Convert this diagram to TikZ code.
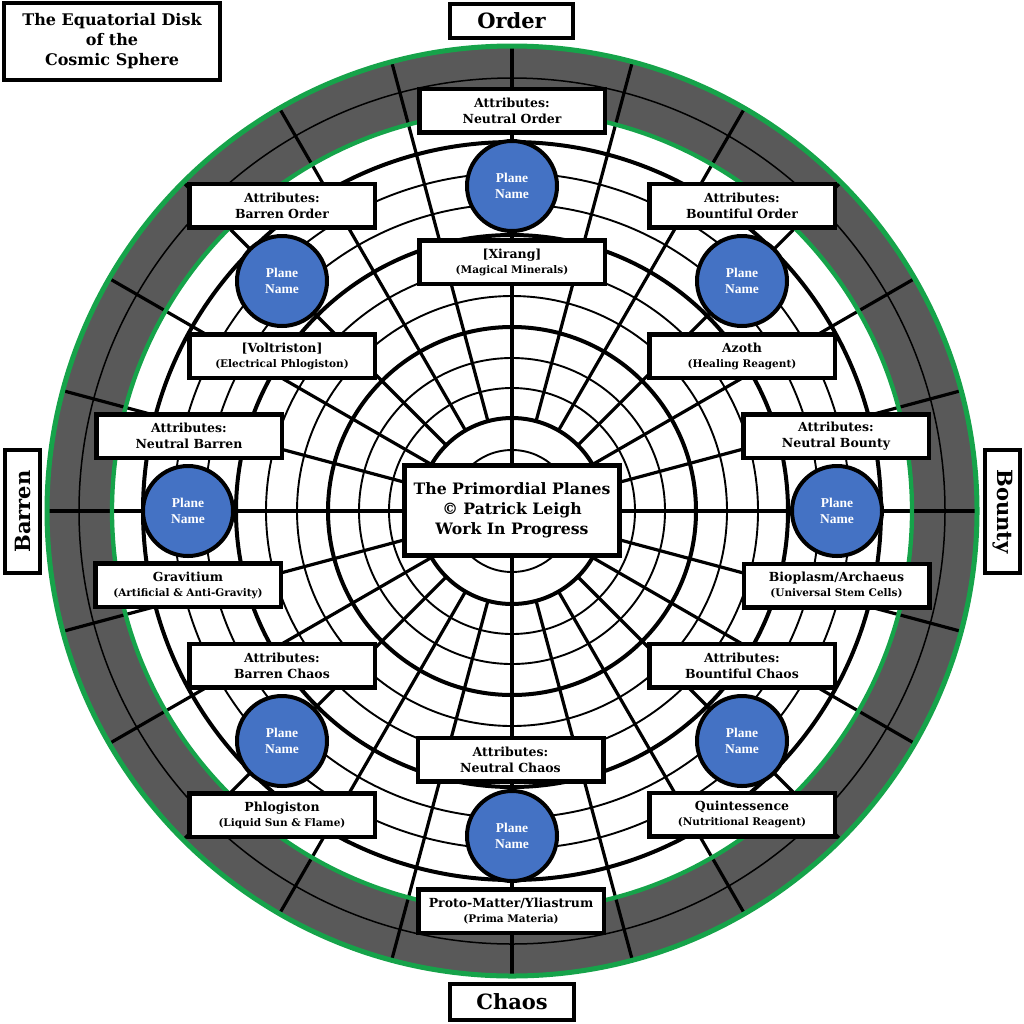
\documentclass[tikz,border=0pt]{standalone}
\usepackage{fontspec}
\setmainfont{DejaVu Serif}
\newfontfamily\planefont{Liberation Serif}
\definecolor{ringgrey}{RGB}{89,89,89}
\definecolor{rimgreen}{RGB}{22,163,74}
\definecolor{planeblue}{RGB}{68,114,196}
\newcommand\subline[1]{{\fontsize{10.5}{15}\selectfont #1}}
\begin{document}
\begin{tikzpicture}[x=1pt,y=-1pt,
  thincirc/.style={line width=1.9pt},
  thickcirc/.style={line width=4pt},
  spoke/.style={line width=3.2pt},
  attrbox/.style={draw, line width=4.5pt, fill=white, inner sep=0pt, align=center,
    minimum width=185.5pt, minimum height=43.5pt, font=\bfseries\fontsize{12.5}{16}\selectfont},
  namebox/.style={attrbox, font=\bfseries\fontsize{12.5}{15}\selectfont},
  bigbox/.style={draw, line width=4pt, fill=white, inner sep=0pt, align=center,
    font=\bfseries\fontsize{21}{26}\selectfont},
  plane/.style={circle, draw, line width=4pt, fill=planeblue, minimum size=90pt, inner sep=0pt,
    text=white, align=center, font=\planefont\bfseries\fontsize{13.5}{15.5}\selectfont}
]
\useasboundingbox (0,0) rectangle (1024,1023);
% disk
\begin{scope}[shift={(512,511)}]
  \fill[ringgrey, even odd rule] (0,0) circle[radius=465] (0,0) circle[radius=400];
  \draw[line width=1.5pt] (0,0) circle[radius=433];
  \foreach \r in {61,123,153,215,246,307,338} \draw[thincirc] (0,0) circle[radius=\r];
  \foreach \r in {93,184,276,369} \draw[thickcirc] (0,0) circle[radius=\r];
  \foreach \a in {0,15,...,345} \draw[spoke] (\a:93) -- (\a:465);
  \foreach \a in {0,90,180,270} \draw[spoke] (0,0) -- (\a:93);
  \draw[rimgreen, line width=4.3pt] (0,0) circle[radius=400];
  \draw[rimgreen, line width=5pt] (0,0) circle[radius=465];
\end{scope}
% title and direction labels
\node[bigbox, minimum width=216pt, minimum height=77pt, font=\bfseries\fontsize{16}{20}\selectfont]
  (title) at (112,41.5) {The Equatorial Disk\\of the\\Cosmic Sphere};
\node[bigbox, minimum width=123pt, minimum height=34pt] (order) at (511.5,21) {Order};
\node[bigbox, minimum width=124pt, minimum height=36pt] (chaos) at (512,1002) {Chaos};
\node[bigbox, rotate=90, minimum width=123pt, minimum height=35pt] (barren) at (22.5,511.5) {Barren};
\node[bigbox, rotate=-90, minimum width=123pt, minimum height=35pt] (bounty) at (1002.5,511.5) {Bounty};
\node[bigbox, line width=5pt, minimum width=215pt, minimum height=90pt, font=\bfseries\fontsize{15.7}{20}\selectfont]
  (center) at (512,510.5) {The Primordial Planes\\© Patrick Leigh\\Work In Progress};
% planes
\node[plane] (p-no) at (512,186) {Plane\\Name};
\node[plane] (p-bo) at (282,281) {Plane\\Name};
\node[plane] (p-bro) at (742,281) {Plane\\Name};
\node[plane] (p-nb) at (188,511) {Plane\\Name};
\node[plane] (p-nbo) at (837,511) {Plane\\Name};
\node[plane] (p-bc) at (282,741) {Plane\\Name};
\node[plane] (p-brc) at (742,741) {Plane\\Name};
\node[plane] (p-nc) at (512,836) {Plane\\Name};
% attribute boxes
\node[attrbox] (a-no) at (512,110.5) {Attributes:\\Neutral Order};
\node[attrbox] (a-bo) at (282,205.5) {Attributes:\\Barren Order};
\node[attrbox] (a-bro) at (742,205.5) {Attributes:\\Bountiful Order};
\node[attrbox] (a-nb) at (189,436) {Attributes:\\Neutral Barren};
\node[attrbox] (a-nbo) at (836,436) {Attributes:\\Neutral Bounty};
\node[attrbox] (a-bc) at (282,665.5) {Attributes:\\Barren Chaos};
\node[attrbox] (a-brc) at (742,665.5) {Attributes:\\Bountiful Chaos};
\node[attrbox] (a-nc) at (510.5,759.5) {Attributes:\\Neutral Chaos};
% substance boxes
\node[namebox] (n-no) at (512,262) {[Xirang]\\\subline{(Magical Minerals)}};
\node[namebox] (n-bo) at (282,356) {[Voltriston]\\\subline{(Electrical Phlogiston)}};
\node[namebox] (n-bro) at (742,356) {Azoth\\\subline{(Healing Reagent)}};
\node[namebox] (n-nb) at (188,585) {Gravitium\\\subline{(Artificial \& Anti-Gravity)}};
\node[namebox] (n-nbo) at (836.5,585.5) {Bioplasm/Archaeus\\\subline{(Universal Stem Cells)}};
\node[namebox] (n-bc) at (282,815) {Phlogiston\\\subline{(Liquid Sun \& Flame)}};
\node[namebox] (n-brc) at (742,814.5) {Quintessence\\\subline{(Nutritional Reagent)}};
\node[namebox] (n-nc) at (511,911) {Proto-Matter/Yliastrum\\\subline{(Prima Materia)}};
\end{tikzpicture}
\end{document}
